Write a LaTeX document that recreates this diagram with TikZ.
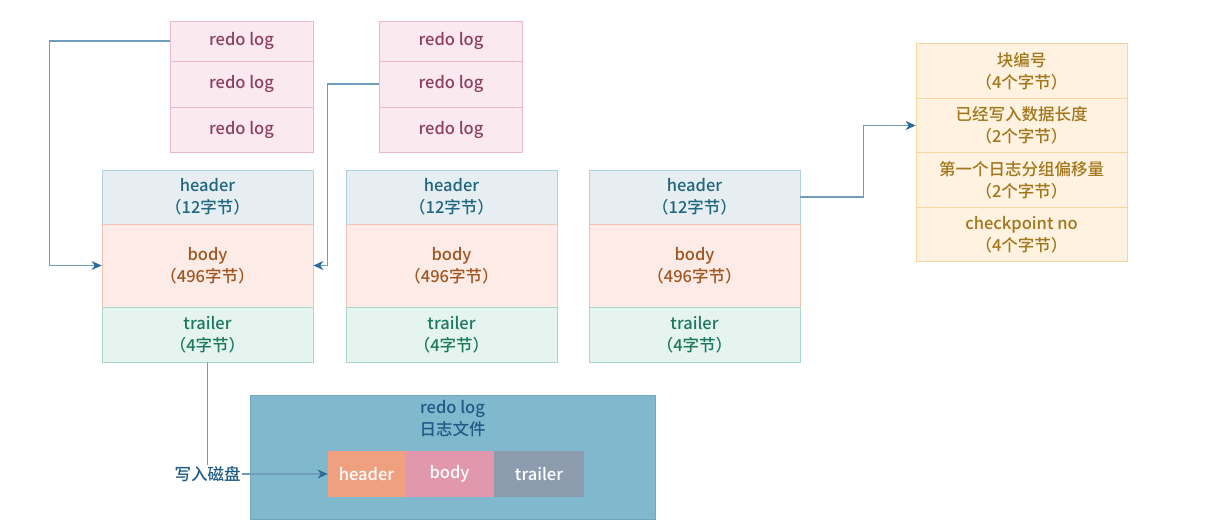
\documentclass[tikz,border=0pt]{standalone}
\usepackage{fontspec}
\setmainfont{Noto Sans CJK SC Medium}
\usetikzlibrary{arrows.meta}
\definecolor{redofill}{HTML}{FAE9EF}
\definecolor{redodraw}{HTML}{EDB8C8}
\definecolor{redotext}{HTML}{8E3F5E}
\definecolor{hdfill}{HTML}{E6EEF2}
\definecolor{hddraw}{HTML}{AED2E2}
\definecolor{hdtext}{HTML}{21667F}
\definecolor{bdfill}{HTML}{FCEBE6}
\definecolor{bddraw}{HTML}{F2C2B2}
\definecolor{bdtext}{HTML}{A0561F}
\definecolor{trfill}{HTML}{E5F4EE}
\definecolor{trdraw}{HTML}{A9D9C6}
\definecolor{trtext}{HTML}{1B7A5E}
\definecolor{orfill}{HTML}{FFF2E0}
\definecolor{ordraw}{HTML}{F8D49E}
\definecolor{ortext}{HTML}{A2761A}
\definecolor{filefill}{HTML}{80B8CE}
\definecolor{filetext}{HTML}{1E5A86}
\definecolor{fhfill}{HTML}{F0A07F}
\definecolor{fbfill}{HTML}{E298AC}
\definecolor{ftfill}{HTML}{8D9BAF}
\definecolor{linecol}{HTML}{6F9DBB}
\definecolor{tipcol}{HTML}{2A6A9A}
\tikzset{
  box/.style={rectangle, inner sep=0pt, align=center, line width=0.8pt,
    font=\fontsize{16.5}{22}\selectfont},
  redo/.style={box, fill=redofill, draw=redodraw, text=redotext, minimum width=143pt},
  hd/.style={box, fill=hdfill, draw=hddraw, text=hdtext, minimum width=211pt, minimum height=54pt},
  bd/.style={box, fill=bdfill, draw=bddraw, text=bdtext, minimum width=211pt, minimum height=83pt},
  tr/.style={box, fill=trfill, draw=trdraw, text=trtext, minimum width=211pt, minimum height=55pt},
  orr/.style={box, fill=orfill, draw=ordraw, text=ortext, minimum width=211pt, minimum height=54.5pt},
  strip/.style={box, text=white, minimum height=46pt},
  conn/.style={draw=linecol, line width=1.1pt, -{Stealth[length=10pt,width=9pt,color=tipcol]}},
}
\newcommand{\lowtxt}[1]{\raisebox{-2.5pt}{#1}}
\begin{document}
\begin{tikzpicture}[x=1pt,y=-1pt]
\useasboundingbox (0,0) rectangle (1214,529);
% redo log stacks
\node[redo, minimum height=40pt] (r11) at (241.5,41) {\lowtxt{redo log}};
\node[redo, minimum height=46pt] (r12) at (241.5,84) {\lowtxt{redo log}};
\node[redo, minimum height=45pt] (r13) at (241.5,129.5) {\lowtxt{redo log}};
\node[redo, minimum height=40pt] (r21) at (451,41) {\lowtxt{redo log}};
\node[redo, minimum height=46pt] (r22) at (451,84) {\lowtxt{redo log}};
\node[redo, minimum height=45pt] (r23) at (451,129.5) {\lowtxt{redo log}};
% blocks
\node[hd] (b1h) at (207.5,197) {header\\（12字节）};
\node[bd] (b1b) at (207.5,265.5) {body\\（496字节）};
\node[tr] (b1t) at (207.5,334.5) {trailer\\（4字节）};
\node[hd] (b2h) at (451.5,197) {header\\（12字节）};
\node[bd] (b2b) at (451.5,265.5) {body\\（496字节）};
\node[tr] (b2t) at (451.5,334.5) {trailer\\（4字节）};
\node[hd] (b3h) at (694.5,197) {header\\（12字节）};
\node[bd] (b3b) at (694.5,265.5) {body\\（496字节）};
\node[tr] (b3t) at (694.5,334.5) {trailer\\（4字节）};
% header detail
\node[orr] (o1) at (1021.5,71) {块编号\\（4个字节）};
\node[orr] (o2) at (1021.5,125.5) {已经写入数据长度\\（2个字节）};
\node[orr] (o3) at (1021.5,180) {第一个日志分组偏移量\\（2个字节）};
\node[orr] (o4) at (1021.5,234.5) {checkpoint no\\（4个字节）};
% file
\node[box, fill=filefill, draw=filefill!90!black, minimum width=405pt, minimum height=124pt] (file) at (452.5,457) {};
\node[box, text=filetext] (filelabel) at (452.5,419) {redo log\\日志文件};
\node[strip, fill=fhfill, minimum width=77pt] (fh) at (366.5,474) {header};
\node[strip, fill=fbfill, minimum width=89pt] (fb) at (449.5,474) {body};
\node[strip, fill=ftfill, minimum width=90pt] (ft) at (539,474) {trailer};
% connectors
\draw[conn] (r11.west) -- ++(-120,0) |- (b1b.west);
\draw[conn] (r22.west) -- ++(-52,0) |- (b1b.east);
\draw[conn] (b3h.east) -- ++(63,0) |- (o2.west);
\draw[conn] (b1t.south) |- node[fill=white, text=filetext, inner sep=1pt, font=\fontsize{16.5}{22}\selectfont] (wl) {写入磁盘} (fh.west);
\end{tikzpicture}
\end{document}
